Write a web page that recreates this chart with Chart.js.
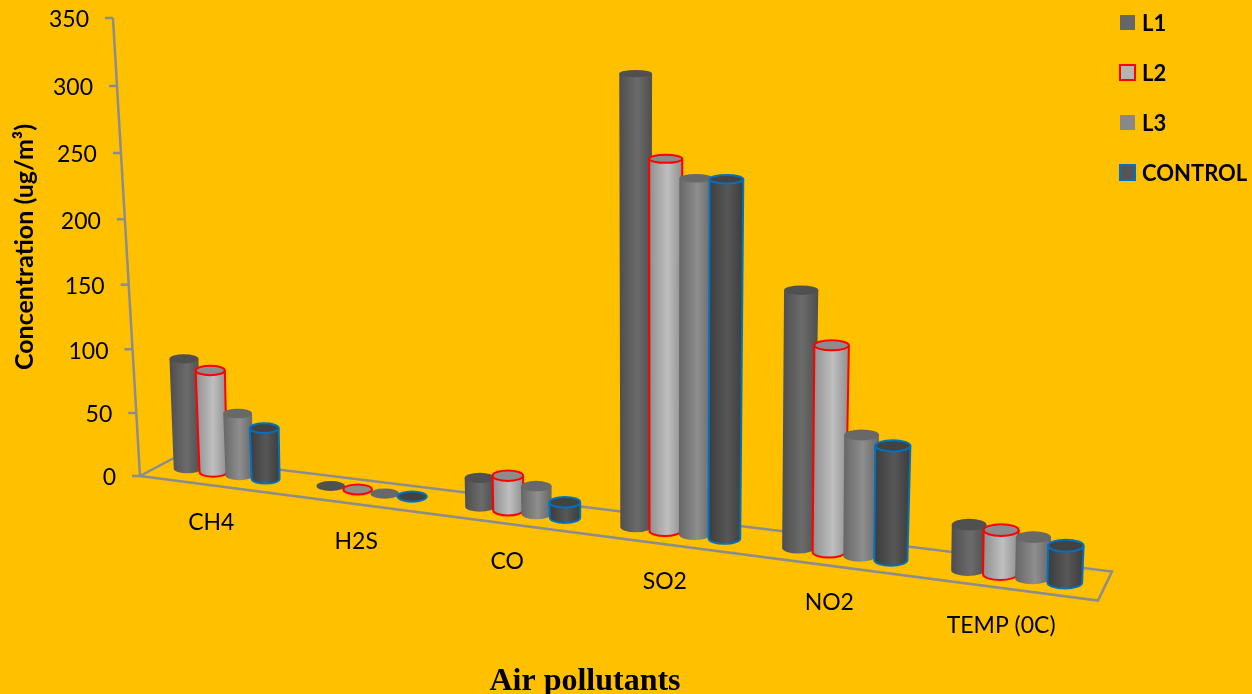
<!DOCTYPE html>
<html>
<head>
<meta charset="utf-8">
<title>Air pollutants</title>
<script src="https://cdn.jsdelivr.net/npm/chart.js@4/dist/chart.umd.js"></script>
<style>
    html, body { margin: 0; padding: 0; background: #ffc000; overflow: hidden; }
    canvas { display: block; }
</style>
</head>
<body>
<canvas id="chart1" width="1252" height="694"></canvas>
<script>
/******************************************************************************
 * data
 *****************************************************************************/
const categories = ['CH4', 'H2S', 'CO', 'SO2', 'NO2', 'TEMP (0C)'];
const l1Values = [86, 1, 21, 305, 169, 29];
const l2Values = [79, 1, 25, 250, 135, 28];
const l3Values = [48, 0.5, 20, 238, 79, 26];
const controlValues = [39, 1, 11, 238, 74, 23];
const yMax = 350;
const yStep = 50;

/******************************************************************************
 * constants
 *****************************************************************************/
const AXIS_FONT = 'Lato, "Open Sans", sans-serif';
const AXIS_GREY = '#8c8c8c';
const DEPTH = 0.12;        // horizontal foreshortening along the floor
const WALL_CURVE = 0.045;  // vertical foreshortening up the wall
const FLOOR_SLOPE = 0.13;  // floor edge runs downhill to the right
const ROW_INSET = 13.5;    // bars stand this far behind the front floor edge
const CORNER_INSET = 16;   // floor corner sits left of the first category band
const AXIS_LEAN = 0.059;
const BAR_LEAN = 0.00007;

/******************************************************************************
 * projection helpers
 *****************************************************************************/
function depthAt(area, px) {
    const t = (px - area.left) / area.width;
    return {
        x: area.left + area.width * (1 - DEPTH) * t / (1 - DEPTH * t),
        k: 1 / ((1 - DEPTH * t) * (1 - DEPTH * t))
    };
}

function wallHeight(area, px) {
    const t = (area.bottom - px) / area.height;
    return area.height * t / (1 + WALL_CURVE * (1 - t));
}

function frontEdgeY(area, x) {
    return area.bottom + FLOOR_SLOPE * (x - (area.left - CORNER_INSET));
}

/******************************************************************************
 * cylinder bars
 *****************************************************************************/
class CylinderBar extends Chart.BarElement {
    static id = 'cylinderBar';
    static defaults = { edgeColor: '#000', topColor: '#000' };

    draw(ctx) {
        const area = Chart.getChart(ctx.canvas).chartArea;
        const opts = this.options;
        const mid = depthAt(area, this.x);
        const w0 = depthAt(area, this.x + this.width / 2).x - depthAt(area, this.x - this.width / 2).x;
        const h = mid.k * (wallHeight(area, this.y) - wallHeight(area, this.base));
        const w1 = w0 * (1 + 0.06 * Math.min(h / 100, 1));

        const x0 = mid.x;
        const y0 = frontEdgeY(area, x0) - ROW_INSET;
        const x1 = x0 + (x0 - 640) * BAR_LEAN * h;
        const y1 = y0 - h;
        const ry0 = w0 * 0.17;
        const ry1 = w1 * Math.max(0.175 - h * 0.00014, 0.08);

        const outline = () => {
            ctx.moveTo(x1 - w1 / 2, y1);
            ctx.lineTo(x0 - w0 / 2, y0);
            ctx.ellipse(x0, y0, w0 / 2, ry0, 0, Math.PI, 0, true);
            ctx.lineTo(x1 + w1 / 2, y1);
        };

        ctx.save();
        if (h > 1.5) {
            const left = Math.min(x0 - w0 / 2, x1 - w1 / 2);
            const right = Math.max(x0 + w0 / 2, x1 + w1 / 2);
            const grad = ctx.createLinearGradient(left, 0, right, 0);
            grad.addColorStop(0, opts.edgeColor);
            grad.addColorStop(0.55, opts.backgroundColor);
            grad.addColorStop(1, opts.edgeColor);

            ctx.beginPath();
            outline();
            ctx.closePath();
            ctx.fillStyle = grad;
            ctx.fill();

            if (opts.borderWidth) {
                ctx.beginPath();
                outline();
                ctx.strokeStyle = opts.borderColor;
                ctx.lineWidth = opts.borderWidth;
                ctx.stroke();
            }
        }

        // lid of the cylinder
        ctx.beginPath();
        ctx.ellipse(x1, y1, w1 / 2, ry1, 0, 0, Math.PI * 2);
        ctx.fillStyle = opts.topColor;
        ctx.fill();
        if (opts.borderWidth) {
            ctx.strokeStyle = opts.borderColor;
            ctx.lineWidth = opts.borderWidth;
            ctx.stroke();
        }
        ctx.restore();
    }
}

class CylinderController extends Chart.BarController {
    static id = 'cylinder';
    static defaults = { dataElementType: 'cylinderBar' };
    static overrides = Chart.BarController.overrides;
}

Chart.register(CylinderBar, CylinderController);

/******************************************************************************
 * floor, axes, legend and titles
 *****************************************************************************/
const scene = {
    id: 'scene',
    beforeDatasetsDraw(chart) {
        const { ctx, chartArea: area, scales } = chart;
        const cornerX = area.left - CORNER_INSET;

        ctx.save();
        ctx.strokeStyle = AXIS_GREY;
        ctx.lineWidth = 2.5;

        // floor outline
        const frontRight = cornerX + 958;
        ctx.beginPath();
        ctx.moveTo(cornerX, area.bottom);
        ctx.lineTo(frontRight, frontEdgeY(area, frontRight));
        ctx.lineTo(frontRight + 14, frontEdgeY(area, frontRight) - 29);
        ctx.lineTo(cornerX + 36, area.bottom - 19);
        ctx.closePath();
        ctx.stroke();

        // value axis, leaning back, with its ticks and labels
        ctx.beginPath();
        ctx.moveTo(cornerX, area.bottom);
        ctx.lineTo(cornerX - AXIS_LEAN * area.height, area.top);
        ctx.stroke();

        ctx.font = '23px ' + AXIS_FONT;
        ctx.fillStyle = '#000';
        ctx.textAlign = 'right';
        ctx.textBaseline = 'middle';
        scales.y.ticks.forEach(tick => {
            const h = wallHeight(area, scales.y.getPixelForValue(tick.value));
            const x = cornerX - AXIS_LEAN * h;
            const y = area.bottom - h;
            ctx.beginPath();
            ctx.moveTo(x, y);
            ctx.lineTo(x - 8, y);
            ctx.stroke();
            ctx.fillText(String(tick.value), x - 24, y + 2);
        });

        // category labels follow the slope of the floor
        ctx.textAlign = 'center';
        chart.data.labels.forEach((label, i) => {
            const x = depthAt(area, scales.x.getPixelForTick(i)).x;
            ctx.fillText(label, x - 15, frontEdgeY(area, x) - ROW_INSET + 49);
        });

        // axis title below the floor
        ctx.font = 'bold 32px "Liberation Serif", serif';
        ctx.fillText('Air pollutants', 585, 682);
        ctx.restore();
    },
    // series are painted left to right so each bar overlaps the one before it
    beforeDatasetDraw() {
        return false;
    },
    afterDatasetsDraw(chart) {
        const { ctx } = chart;
        chart.data.datasets.forEach((ds, i) => chart.getDatasetMeta(i).controller.draw());

        ctx.save();
        ctx.font = 'bold 22px ' + AXIS_FONT;
        ctx.textAlign = 'left';
        ctx.textBaseline = 'middle';
        chart.data.datasets.forEach((ds, i) => {
            const y = 15 + i * 50;
            ctx.fillStyle = ds.legendColor;
            ctx.fillRect(1120, y, 15, 15);
            if (ds.borderWidth) {
                ctx.strokeStyle = ds.borderColor;
                ctx.lineWidth = 2;
                ctx.strokeRect(1120, y, 15, 15);
            }
            ctx.fillStyle = '#000';
            ctx.fillText(ds.label, 1142, y + 9);
        });
        ctx.restore();
    }
};

/******************************************************************************
 * chart
 *****************************************************************************/
new Chart(document.getElementById('chart1'), {
    type: 'cylinder',
    plugins: [scene],
    data: {
        labels: categories,
        datasets: [
            { label: 'L1', data: l1Values, backgroundColor: '#6b6b6b', edgeColor: '#4e4e4e', topColor: '#505050', legendColor: '#666666', borderWidth: 0 },
            { label: 'L2', data: l2Values, backgroundColor: '#bfbfbf', edgeColor: '#8f8f8f', topColor: '#8c8c8c', legendColor: '#b5b5b5', borderColor: '#ff0000', borderWidth: 2 },
            { label: 'L3', data: l3Values, backgroundColor: '#8e8e8e', edgeColor: '#666666', topColor: '#686868', legendColor: '#888888', borderWidth: 0 },
            { label: 'CONTROL', data: controlValues, backgroundColor: '#575757', edgeColor: '#3c3c3c', topColor: '#424242', legendColor: '#555555', borderColor: '#0070c0', borderWidth: 2 }
        ]
    },
    options: {
        responsive: false,
        animation: false,
        events: [],
        layout: { padding: { left: 10, top: 18, right: 147, bottom: 0 } },
        datasets: { cylinder: { categoryPercentage: 0.734, barPercentage: 1.06 } },
        plugins: { legend: { display: false }, tooltip: { enabled: false } },
        scales: {
            x: {
                type: 'category',
                offset: true,
                grid: { display: false },
                border: { display: false },
                ticks: { display: false },
                afterFit(scale) { scale.height = 218; }
            },
            y: {
                type: 'linear',
                min: 0,
                max: yMax,
                grid: { display: false },
                border: { display: false },
                ticks: { display: false, stepSize: yStep },
                title: {
                    display: true,
                    text: 'Concentration (ug/m³)',
                    color: '#000',
                    padding: 0,
                    font: { family: AXIS_FONT, size: 25, weight: 'bold' }
                },
                afterFit(scale) { scale.width = 146; }
            }
        }
    }
});
</script>
</body>
</html>
